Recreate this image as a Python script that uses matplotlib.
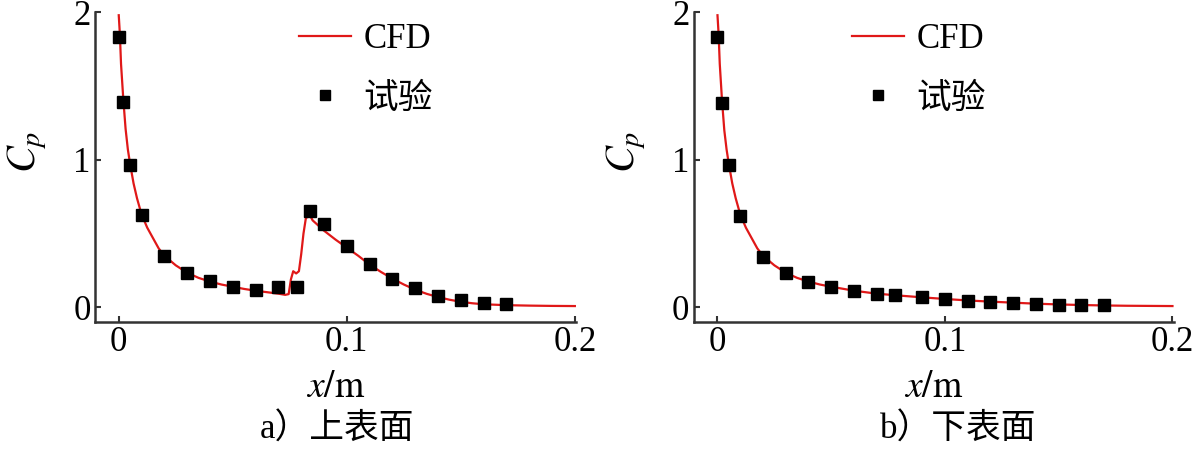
"""
Cp distribution on upper / lower surface: CFD vs. experiment
"""
import matplotlib.pyplot as plt

plt.rcParams['font.family'] = ['Liberation Serif', 'Noto Sans CJK SC']
plt.rcParams['mathtext.fontset'] = 'stix'

# ---- upper surface (a) ----
upper_cfd_x = [0, 0.0005, 0.001, 0.002, 0.003, 0.004, 0.005, 0.0065, 0.008, 0.01,
               0.0125, 0.015, 0.0175, 0.02, 0.025, 0.03, 0.035, 0.04, 0.045, 0.05,
               0.055, 0.06, 0.065, 0.07, 0.073, 0.0745, 0.0755, 0.0765, 0.0778, 0.079,
               0.080, 0.081, 0.082, 0.0835, 0.085, 0.09, 0.095, 0.10, 0.105, 0.11,
               0.115, 0.12, 0.125, 0.13, 0.135, 0.14, 0.145, 0.15, 0.155, 0.16,
               0.17, 0.18, 0.19, 0.2]
upper_cfd_y = [1.98, 1.85, 1.65, 1.41, 1.21, 1.07, 0.97, 0.84, 0.74, 0.63,
               0.54, 0.47, 0.40, 0.35, 0.285, 0.235, 0.20, 0.175, 0.155, 0.14,
               0.125, 0.113, 0.103, 0.093, 0.085, 0.09, 0.19, 0.245, 0.23, 0.245,
               0.36, 0.50, 0.60, 0.635, 0.59, 0.52, 0.46, 0.405, 0.35, 0.29,
               0.24, 0.195, 0.155, 0.12, 0.092, 0.07, 0.052, 0.038, 0.028, 0.021,
               0.015, 0.012, 0.01, 0.009]
upper_exp_x = [0, 0.0017, 0.005, 0.010, 0.020, 0.030, 0.040, 0.050, 0.060, 0.070,
               0.078, 0.084, 0.090, 0.100, 0.110, 0.120, 0.130, 0.140, 0.150, 0.160, 0.170]
upper_exp_y = [1.83, 1.39, 0.965, 0.625, 0.35, 0.235, 0.18, 0.14, 0.12, 0.14,
               0.14, 0.65, 0.565, 0.415, 0.295, 0.195, 0.13, 0.075, 0.047, 0.027, 0.02]

# ---- lower surface (b) ----
lower_cfd_x = [0, 0.0005, 0.001, 0.002, 0.003, 0.004, 0.005, 0.0065, 0.008, 0.01,
               0.0125, 0.015, 0.0175, 0.02, 0.025, 0.03, 0.035, 0.04, 0.045, 0.05,
               0.06, 0.07, 0.08, 0.09, 0.1, 0.11, 0.12, 0.13, 0.14, 0.15,
               0.16, 0.17, 0.18, 0.19, 0.2]
lower_cfd_y = [1.98, 1.85, 1.65, 1.40, 1.20, 1.07, 0.97, 0.84, 0.74, 0.63,
               0.54, 0.47, 0.40, 0.35, 0.285, 0.235, 0.20, 0.175, 0.155, 0.14,
               0.113, 0.093, 0.08, 0.068, 0.057, 0.047, 0.039, 0.032, 0.025, 0.02,
               0.016, 0.013, 0.011, 0.01, 0.009]
lower_exp_x = [0, 0.0022, 0.005, 0.010, 0.020, 0.030, 0.040, 0.050, 0.060, 0.070,
               0.078, 0.090, 0.100, 0.110, 0.120, 0.130, 0.140, 0.150, 0.160, 0.170]
lower_exp_y = [1.83, 1.385, 0.966, 0.62, 0.344, 0.235, 0.17, 0.14, 0.11, 0.09,
               0.084, 0.068, 0.057, 0.045, 0.038, 0.032, 0.023, 0.018, 0.016, 0.016]

xticks = [0, 0.1, 0.2]
xtick_labels = ['0', '0.1', '0.2']
yticks = [0, 1, 2]
captions = ['a）上表面', 'b）下表面']

fig = plt.figure(figsize=(12, 4.55), dpi=100)
ax_a = fig.add_axes([0.079, 0.292, 0.401, 0.681])
ax_b = fig.add_axes([0.578, 0.292, 0.400, 0.681])

panels = [(ax_a, upper_cfd_x, upper_cfd_y, upper_exp_x, upper_exp_y, 0.36),
          (ax_b, lower_cfd_x, lower_cfd_y, lower_exp_x, lower_exp_y, 0.265)]

for ax, cx, cy, ex, ey, leg_x in panels:
    ax.plot(cx, cy, color='#e01818', lw=1.6, label='CFD', zorder=2)
    ax.plot(ex, ey, ls='none', marker='s', ms=8.5, color='black', label='试验', zorder=3)
    ax.set_xlim(-0.0105, 0.2005)
    ax.set_ylim(-0.1, 2.0)
    ax.set_xticks(xticks)
    ax.set_xticklabels(xtick_labels)
    ax.set_yticks(yticks)
    for s in ['top', 'right']:
        ax.spines[s].set_visible(False)
    for s in ['left', 'bottom']:
        ax.spines[s].set_linewidth(1.8)
        ax.spines[s].set_color('#333333')
    ax.tick_params(direction='in', length=4, width=1.5, labelsize=25, pad=3, color='#333333')
    ax.set_xlabel('$x/\\mathrm{m}$', fontsize=27, labelpad=8)
    ax.set_ylabel('$C_p$', fontsize=29)
    ax.yaxis.set_label_coords(-0.095, 0.55)
    ax.legend(loc='upper left', bbox_to_anchor=(leg_x, 1.065), frameon=False, fontsize=25,
              handlelength=1.5, handletextpad=0.35, labelspacing=0.75, markerscale=0.9)

fig.text(337 / 1200, 1 - 430 / 455, captions[0], ha='center', va='center', fontsize=25)
fig.text(958 / 1200, 1 - 430 / 455, captions[1], ha='center', va='center', fontsize=25)

plt.savefig('out.png', dpi=100)
